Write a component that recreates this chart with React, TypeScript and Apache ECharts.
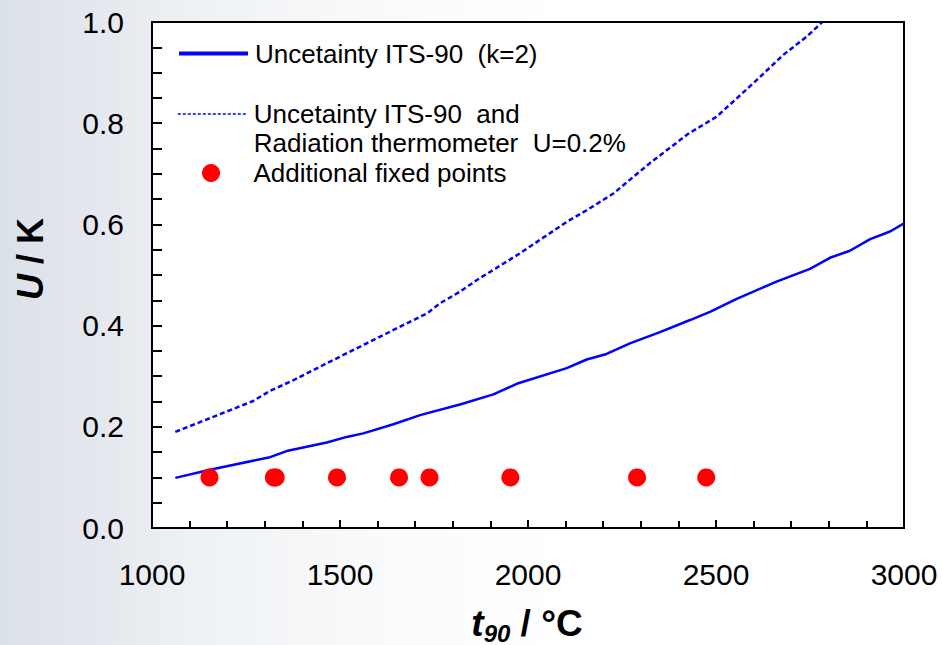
import React, { useEffect, useRef } from "react";
import * as echarts from "echarts";

// Uncertainty ITS-90 (k=2)
const solidT = [1062, 1154, 1314, 1358, 1465, 1518, 1562, 1642, 1713, 1819, 1908, 1970, 2103, 2156, 2209, 2271, 2351, 2431, 2484, 2555, 2661, 2750, 2803, 2856, 2910, 2963, 3000];
const solidU = [0.099, 0.115, 0.14, 0.152, 0.169, 0.18, 0.187, 0.205, 0.223, 0.244, 0.264, 0.285, 0.316, 0.333, 0.344, 0.365, 0.387, 0.411, 0.427, 0.453, 0.487, 0.512, 0.534, 0.548, 0.571, 0.586, 0.602];

// Uncertainty ITS-90 and radiation thermometer U=0.2%
const dashedT = [1062, 1154, 1269, 1314, 1376, 1482, 1571, 1668, 1731, 1766, 1819, 1864, 1979, 2103, 2156, 2227, 2324, 2426, 2502, 2608, 2679, 2741, 2783];
const dashedU = [0.19, 0.217, 0.251, 0.271, 0.292, 0.332, 0.365, 0.401, 0.424, 0.444, 0.467, 0.49, 0.543, 0.605, 0.628, 0.661, 0.721, 0.779, 0.813, 0.885, 0.935, 0.971, 1.0];

// Additional fixed points
const fixedT = [1153, 1324, 1329, 1492, 1657, 1738, 1953, 2290, 2474];
const fixedU = [0.1, 0.1, 0.1, 0.1, 0.1, 0.1, 0.1, 0.1, 0.1];

const xTicks = { min: 1000, max: 3000, interval: 500 };
const yTicks = { min: 0, max: 1, interval: 0.2 };

const NAME1 = "Uncetainty ITS-90  (k=2)";
const NAME2 = "Uncetainty ITS-90  and Radiation thermometer U=0.2%";
const NAME3 = "Additional fixed points";

const FONT = "'Liberation Sans', Arial, Helvetica, sans-serif";
const BLUE = "#0000ff";
const RED = "#ff0000";

const zip = (a: number[], b: number[]) => a.map((v, i) => [v, b[i]]);

export default function App() {
  const ref = useRef<HTMLDivElement>(null);
  useEffect(() => {
    if (!ref.current) return;
    const chart = echarts.init(ref.current, null, { renderer: "svg" });
    const legendText = { color: "#000", fontSize: 26, fontFamily: FONT, lineHeight: 29 };
    chart.setOption({
      animation: false,
      backgroundColor: "transparent",
      grid: {
        left: 152,
        right: 38,
        top: 22,
        bottom: 117,
        show: true,
        backgroundColor: "#ffffff",
        borderColor: "#000",
        borderWidth: 2,
      },
      legend: [
        {
          data: [NAME1],
          orient: "vertical",
          left: 177,
          top: 39,
          padding: 0,
          itemWidth: 69,
          itemHeight: 14,
          selectedMode: false,
          itemStyle: { opacity: 0 },
          lineStyle: { width: 4 },
          textStyle: { ...legendText, padding: [0, 0, 0, 2] },
        },
        {
          data: [NAME2],
          orient: "vertical",
          left: 177,
          top: 70.5,
          padding: 0,
          itemWidth: 69,
          itemHeight: 14,
          selectedMode: false,
          itemStyle: { opacity: 0 },
          lineStyle: { width: 1.6, type: [3, 2] },
          formatter: () => "\nUncetainty ITS-90  and\nRadiation thermometer  U=0.2%",
          textStyle: { ...legendText, padding: [0, 0, 0, 2] },
        },
        {
          data: [NAME3],
          orient: "vertical",
          left: 202,
          top: 158.5,
          padding: 0,
          itemWidth: 69,
          itemHeight: 18,
          selectedMode: false,
          itemStyle: { opacity: 1 },
          textStyle: { ...legendText, padding: [0, 0, 0, 3] },
        },
      ],
      xAxis: {
        type: "value",
        min: xTicks.min,
        max: xTicks.max,
        interval: xTicks.interval,
        axisLine: { show: true, onZero: false, lineStyle: { color: "#000", width: 2 } },
        axisTick: { show: true, inside: true, length: 8, lineStyle: { color: "#000", width: 2 } },
        minorTick: { show: true, splitNumber: 5, length: 7, lineStyle: { color: "#000", width: 2 } },
        splitLine: { show: false },
        axisLabel: {
          color: "#000",
          fontSize: 30,
          fontFamily: FONT,
          margin: 31,
          formatter: (v: number) => String(v),
        },
      },
      yAxis: {
        type: "value",
        min: yTicks.min,
        max: yTicks.max,
        interval: yTicks.interval,
        axisLine: { show: true, onZero: false, lineStyle: { color: "#000", width: 2 } },
        axisTick: { show: true, inside: true, length: 10, lineStyle: { color: "#000", width: 2 } },
        minorTick: { show: true, splitNumber: 4, length: 10, lineStyle: { color: "#000", width: 2 } },
        splitLine: { show: false },
        axisLabel: {
          color: "#000",
          fontSize: 30,
          fontFamily: FONT,
          margin: 28,
          formatter: (v: number) => v.toFixed(1),
        },
      },
      graphic: [
        {
          type: "text",
          x: 527,
          y: 623,
          style: {
            text: "{i|t}{s|90}{n| / °C}",
            align: "center",
            verticalAlign: "middle",
            rich: {
              i: { fontSize: 37, fontWeight: "bold", fontStyle: "italic", fontFamily: FONT, fill: "#000", lineHeight: 44, verticalAlign: "middle" },
              s: { fontSize: 24, fontWeight: "bold", fontStyle: "italic", fontFamily: FONT, fill: "#000", lineHeight: 24, verticalAlign: "bottom" },
              n: { fontSize: 37, fontWeight: "bold", fontFamily: FONT, fill: "#000", lineHeight: 44, verticalAlign: "middle" },
            },
          },
        },
        {
          type: "text",
          x: 30,
          y: 259,
          rotation: Math.PI / 2,
          style: {
            text: "{i|U}{n| / K}",
            align: "center",
            verticalAlign: "middle",
            rich: {
              i: { fontSize: 36, fontWeight: "bold", fontStyle: "italic", fontFamily: FONT, fill: "#000" },
              n: { fontSize: 36, fontWeight: "bold", fontFamily: FONT, fill: "#000" },
            },
          },
        },
      ],
      series: [
        {
          name: NAME1,
          type: "line",
          data: zip(solidT, solidU),
          symbol: "none",
          color: BLUE,
          lineStyle: { color: BLUE, width: 2.5 },
          z: 3,
        },
        {
          name: NAME2,
          type: "line",
          data: zip(dashedT, dashedU),
          symbol: "none",
          color: BLUE,
          lineStyle: { color: BLUE, width: 2.5, type: [5, 3] },
          z: 3,
        },
        {
          name: NAME3,
          type: "scatter",
          data: zip(fixedT, fixedU),
          symbol: "circle",
          symbolSize: 18,
          color: RED,
          itemStyle: { color: RED, opacity: 1 },
          z: 4,
        },
      ],
    });
    return () => chart.dispose();
  }, []);
  return (
    <div
      style={{
        position: "fixed",
        left: 0,
        top: 0,
        width: 942,
        height: 645,
        background:
          "linear-gradient(90deg, #dbe1e8 0%, #e4e8ee 10%, #eff2f5 22%, #f9fafb 40%, #ffffff 60%)",
      }}
    >
      <div ref={ref} style={{ width: 942, height: 645 }} />
    </div>
  );
}
